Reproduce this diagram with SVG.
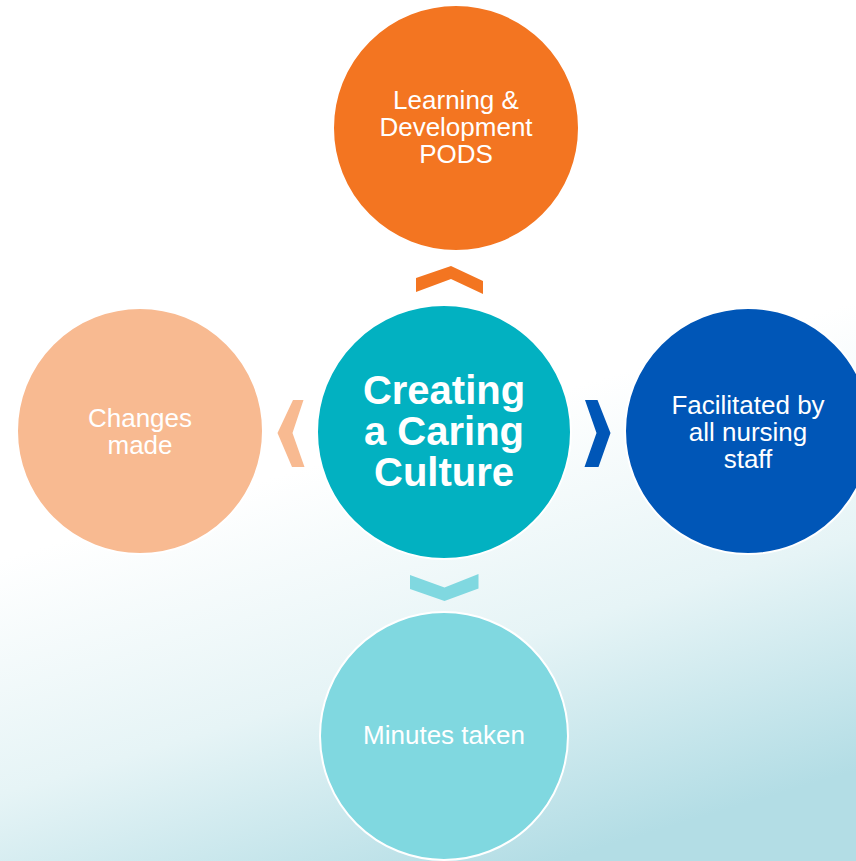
<svg xmlns="http://www.w3.org/2000/svg" width="856" height="861" viewBox="0 0 856 861">
<defs>
<linearGradient id="bg" x1="0.35" y1="0" x2="0.65" y2="1">
<stop offset="0" stop-color="#ffffff"/>
<stop offset="0.5" stop-color="#ffffff"/>
<stop offset="0.75" stop-color="#e6f4f6"/>
<stop offset="1" stop-color="#b3dde5"/>
</linearGradient>
<style>
.c{stroke:#ffffff;stroke-width:2}
.t{font-family:"Liberation Sans",Arial,sans-serif;font-size:26px;fill:#ffffff;text-anchor:middle}
.b{font-family:"Liberation Sans",Arial,sans-serif;font-size:40px;font-weight:bold;fill:#ffffff;text-anchor:middle}
</style>
</defs>
<rect width="856" height="861" fill="url(#bg)"/>
<g id="connectors">
<polygon points="416,278 451,266 483,281 483,294 451,279 416,292" fill="#F37521"/>
<polygon points="293,400 303.5,400 292.5,433 304.5,467 292,467 277.5,433" fill="#F8BA91"/>
<polygon points="585,400 597.5,400 610.5,433 598.5,467 584.5,467 596.5,433" fill="#0056B7"/>
<polygon points="410,575 444.5,587.5 478.5,574 478.5,588.5 444.5,601 410,589" fill="#80D8E0"/>
</g>
<g id="node-top">
<circle class="c" cx="456" cy="128" r="123" fill="#F37521"/>
<text class="t" x="456" y="109">Learning &amp;</text>
<text class="t" x="456" y="136">Development</text>
<text class="t" x="456" y="163">PODS</text>
</g>
<g id="node-left">
<circle class="c" cx="140" cy="431" r="123" fill="#F8BA91"/>
<text class="t" x="140" y="427">Changes</text>
<text class="t" x="140" y="454">made</text>
</g>
<g id="node-right">
<circle class="c" cx="748" cy="431" r="123" fill="#0056B7"/>
<text class="t" x="748" y="414">Facilitated by</text>
<text class="t" x="748" y="441">all nursing</text>
<text class="t" x="748" y="468">staff</text>
</g>
<g id="node-bottom">
<circle class="c" cx="444" cy="736" r="124" fill="#80D8E0"/>
<text class="t" x="444" y="744">Minutes taken</text>
</g>
<g id="node-center">
<circle class="c" cx="444" cy="432" r="127" fill="#02B1C1"/>
<text class="b" x="444" y="404">Creating</text>
<text class="b" x="444" y="445">a Caring</text>
<text class="b" x="444" y="486">Culture</text>
</g>
</svg>
